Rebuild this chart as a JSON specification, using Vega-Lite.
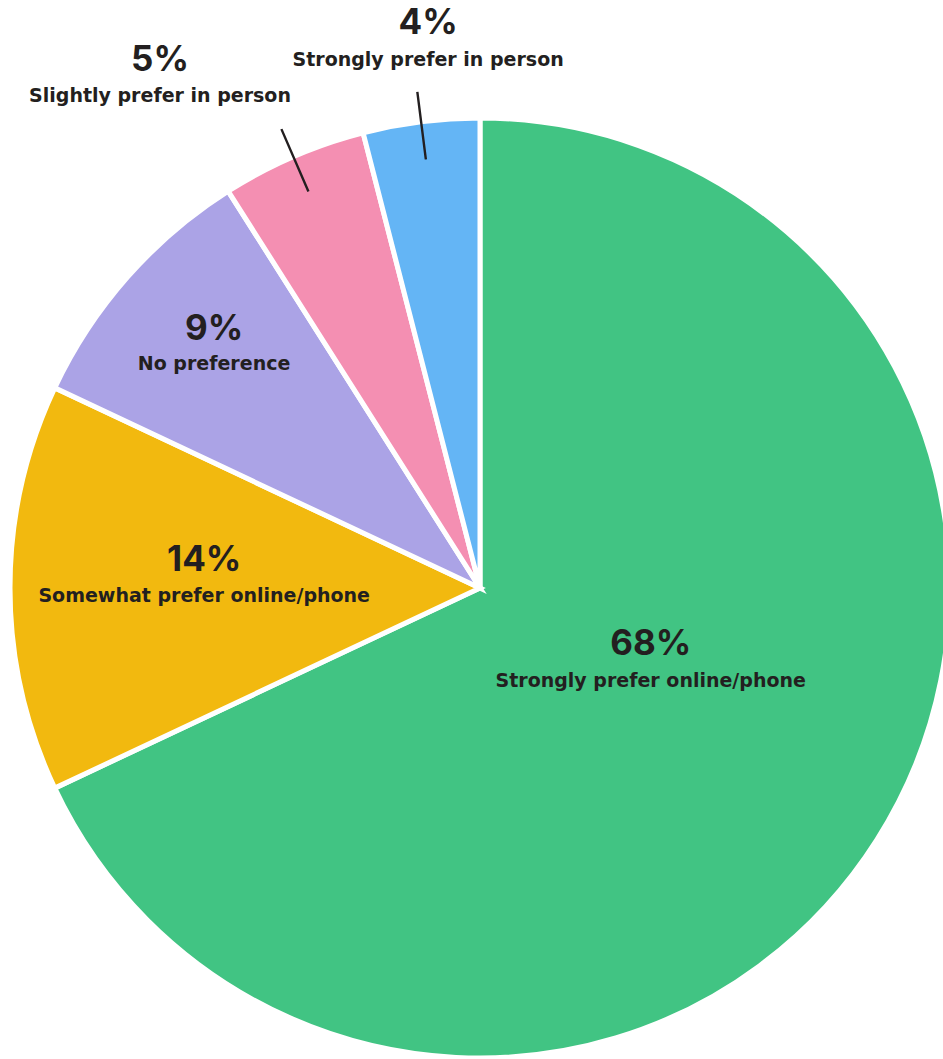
{
  "$schema": "https://vega.github.io/schema/vega-lite/v6.json",
  "width": 960,
  "height": 1176,
  "autosize": "none",
  "padding": 0,
  "background": "white",
  "config": {"view": {"stroke": null}},
  "data": {
    "values": [
      {"category": "Strongly prefer online/phone", "value": 68, "pct": "68%"},
      {"category": "Somewhat prefer online/phone", "value": 14, "pct": "14%"},
      {"category": "No preference", "value": 9, "pct": "9%"},
      {"category": "Slightly prefer in person", "value": 5, "pct": "5%"},
      {"category": "Strongly prefer in person", "value": 4, "pct": "4%"}
    ]
  },
  "encoding": {
    "theta": {"field": "value", "type": "quantitative", "stack": true},
    "order": {"field": "value", "type": "quantitative", "sort": "descending"}
  },
  "layer": [
    {
      "mark": {"type": "arc", "radius": 470, "stroke": "white", "strokeWidth": 5},
      "encoding": {
        "color": {
          "field": "category",
          "type": "nominal",
          "scale": {
            "domain": ["Strongly prefer online/phone", "Somewhat prefer online/phone", "No preference", "Slightly prefer in person", "Strongly prefer in person"],
            "range": ["#41C483", "#F2B90F", "#ABA3E6", "#F48FB2", "#64B5F5"]
          },
          "legend": null
        }
      }
    },
    {
      "mark": {"type": "arc", "radius": 500, "innerRadius": 432, "padAngle": 1.2, "fill": null, "fillOpacity": 0, "stroke": "#231f20", "strokeWidth": 2.4},
      "encoding": {
        "strokeOpacity": {"condition": {"test": "datum.value <= 5", "value": 1}, "value": 0}
      }
    },
    {
      "mark": {"type": "text", "radius": 186, "thetaOffset": -0.157, "dy": -18, "font": "Inter", "fontWeight": "bold", "fontSize": 35, "color": "#231f20", "align": "center", "baseline": "middle"},
      "encoding": {"text": {"condition": {"test": "datum.category === 'Strongly prefer online/phone'", "field": "pct"}, "value": ""}}
    },
    {
      "mark": {"type": "text", "radius": 186, "thetaOffset": -0.157, "dy": 19, "font": "DejaVu Sans", "fontWeight": "bold", "fontSize": 19, "color": "#231f20", "align": "center", "baseline": "middle"},
      "encoding": {"text": {"condition": {"test": "datum.category === 'Strongly prefer online/phone'", "field": "category"}, "value": ""}}
    },
    {
      "mark": {"type": "text", "radius": 276, "thetaOffset": 0.04, "dy": -17, "font": "Inter", "fontWeight": "bold", "fontSize": 35, "color": "#231f20", "align": "center", "baseline": "middle"},
      "encoding": {"text": {"condition": {"test": "datum.category === 'Somewhat prefer online/phone'", "field": "pct"}, "value": ""}}
    },
    {
      "mark": {"type": "text", "radius": 276, "thetaOffset": 0.04, "dy": 19, "font": "DejaVu Sans", "fontWeight": "bold", "fontSize": 19, "color": "#231f20", "align": "center", "baseline": "middle"},
      "encoding": {"text": {"condition": {"test": "datum.category === 'Somewhat prefer online/phone'", "field": "category"}, "value": ""}}
    },
    {
      "mark": {"type": "text", "radius": 360, "thetaOffset": 0.017, "dy": -16, "font": "Inter", "fontWeight": "bold", "fontSize": 35, "color": "#231f20", "align": "center", "baseline": "middle"},
      "encoding": {"text": {"condition": {"test": "datum.category === 'No preference'", "field": "pct"}, "value": ""}}
    },
    {
      "mark": {"type": "text", "radius": 360, "thetaOffset": 0.017, "dy": 19, "font": "DejaVu Sans", "fontWeight": "bold", "fontSize": 19, "color": "#231f20", "align": "center", "baseline": "middle"},
      "encoding": {"text": {"condition": {"test": "datum.category === 'No preference'", "field": "category"}, "value": ""}}
    },
    {
      "mark": {"type": "text", "radius": 603, "thetaOffset": -0.151, "dy": -17, "font": "Inter", "fontWeight": "bold", "fontSize": 35, "color": "#231f20", "align": "center", "baseline": "middle"},
      "encoding": {"text": {"condition": {"test": "datum.category === 'Slightly prefer in person'", "field": "pct"}, "value": ""}}
    },
    {
      "mark": {"type": "text", "radius": 603, "thetaOffset": -0.151, "dy": 19, "font": "DejaVu Sans", "fontWeight": "bold", "fontSize": 19, "color": "#231f20", "align": "center", "baseline": "middle"},
      "encoding": {"text": {"condition": {"test": "datum.category === 'Slightly prefer in person'", "field": "category"}, "value": ""}}
    },
    {
      "mark": {"type": "text", "radius": 549, "thetaOffset": 0.031, "dy": -18, "font": "Inter", "fontWeight": "bold", "fontSize": 35, "color": "#231f20", "align": "center", "baseline": "middle"},
      "encoding": {"text": {"condition": {"test": "datum.category === 'Strongly prefer in person'", "field": "pct"}, "value": ""}}
    },
    {
      "mark": {"type": "text", "radius": 549, "thetaOffset": 0.031, "dy": 19, "font": "DejaVu Sans", "fontWeight": "bold", "fontSize": 19, "color": "#231f20", "align": "center", "baseline": "middle"},
      "encoding": {"text": {"condition": {"test": "datum.category === 'Strongly prefer in person'", "field": "category"}, "value": ""}}
    }
  ]
}
